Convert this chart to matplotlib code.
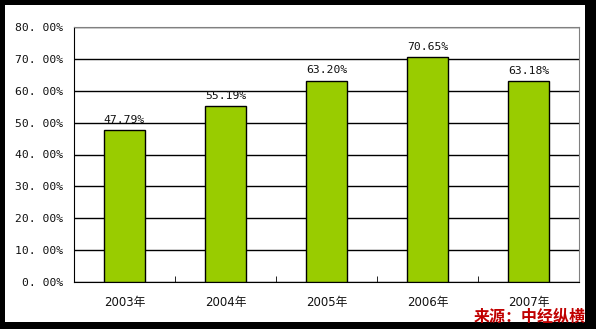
import matplotlib
matplotlib.use("Agg")
import matplotlib.pyplot as plt
import numpy as np

years = ["2003年", "2004年", "2005年", "2006年", "2007年"]
values = [47.79, 55.19, 63.20, 70.65, 63.18]
yticks = [0, 10, 20, 30, 40, 50, 60, 70, 80]

plt.rcParams["font.family"] = ["DejaVu Sans Mono", "Noto Sans CJK SC"]

fig = plt.figure(figsize=(5.96, 3.29), dpi=100)
fig.patch.set_facecolor("black")

# white card with shadow-like black frame
card = fig.add_axes([5 / 596, 7 / 329, 580 / 596, 317 / 329])
card.set_facecolor("white")
card.set_xticks([])
card.set_yticks([])
for s in card.spines.values():
    s.set_visible(False)

ax = fig.add_axes([74 / 596, 47 / 329, 505 / 596, 255 / 329])
ax.set_facecolor("white")
x = np.arange(len(years))
ax.bar(x, values, width=0.41, color="#99CC00", edgecolor="black", linewidth=1, zorder=3)
ax.set_xlim(-0.5, len(years) - 0.5)
ax.set_ylim(0, 80)

ax.set_yticks(yticks)
ax.set_yticklabels([f"{v:.0f}. 00%" for v in yticks], fontsize=8.2, color="#111111")
ax.yaxis.grid(True, color="black", linewidth=1, zorder=0)
ax.tick_params(axis="y", length=0, pad=8)

ax.set_xticks(x)
ax.set_xticklabels(years, fontsize=8.5, color="#111111",
                   family=["DejaVu Sans", "Noto Sans CJK SC"])
ax.tick_params(axis="x", length=0, pad=10)
ax.set_xticks(np.arange(0.5, len(years) - 0.5, 1), minor=True)
ax.tick_params(axis="x", which="minor", direction="in", length=4, color="black")

for xi, v in zip(x, values):
    ax.text(xi, v + 1.6, f"{v:.2f}%", ha="center", va="bottom", fontsize=8.2,
            color="#111111", zorder=4)

ax.spines["left"].set_color("black")
ax.spines["bottom"].set_color("black")
ax.spines["top"].set_color("#808080")
ax.spines["right"].set_color("#808080")
ax.set_axisbelow(True)

fig.text(530 / 596, 1 - 317 / 329, "来源：中经纵横", ha="center", va="center",
         fontsize=11.5, color="#C00000", fontweight="bold", style="italic",
         family=["Noto Sans CJK SC"])

fig.savefig("out.png", dpi=100, facecolor=fig.get_facecolor())
